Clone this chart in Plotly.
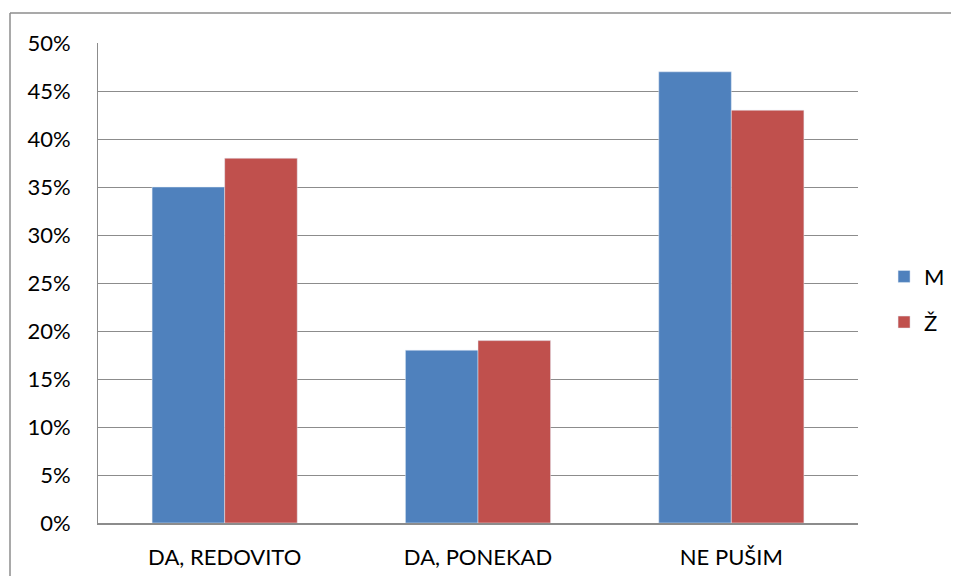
import plotly.graph_objects as go

categories = ["DA, REDOVITO", "DA, PONEKAD", "NE PUŠIM"]
m_values = [0.35, 0.18, 0.47]
z_values = [0.38, 0.19, 0.43]
series_names = ["M", "Ž"]
tick_vals = [i * 0.05 for i in range(11)]
tick_text = [f"{i*5}%" for i in range(11)]

fig = go.Figure()
fig.add_trace(go.Bar(x=categories, y=m_values, name=series_names[0],
                     marker_color="#4F81BD", legendgroup="a"))
fig.add_trace(go.Bar(x=categories, y=z_values, name=series_names[1],
                     marker_color="#C0504D", legendgroup="b"))

fig.update_layout(
    width=943, height=568,
    margin=dict(l=90, r=93, t=35, b=53, autoexpand=False),
    paper_bgcolor="white", plot_bgcolor="white",
    font=dict(family="Lato, Carlito, sans-serif", size=22, color="black"),
    barmode="group", bargap=0.427, bargroupgap=0,
    legend=dict(x=0.929, xanchor="left", y=0.564, yanchor="top",
                xref="container", yref="container", font=dict(size=22),
                tracegroupgap=14, traceorder="grouped", itemwidth=30),
    showlegend=True,
)
fig.update_yaxes(range=[0, 0.5], tickvals=tick_vals, ticktext=tick_text,
                 showgrid=True, gridcolor="#8C8C8C", gridwidth=1,
                 showline=True, linecolor="#8C8C8C", linewidth=1,
                 ticks="", ticklabelstandoff=22, zeroline=False,
                 automargin=False)
fig.update_xaxes(showline=True, linecolor="#8C8C8C", linewidth=1.5,
                 ticks="", ticklabelstandoff=14, automargin=False)
# outer chart border (top and left edges visible)
fig.add_shape(type="line", xref="paper", yref="paper",
              x0=-88/760, x1=1.3, y0=1 + 30/481, y1=1 + 30/481,
              line=dict(color="#8C8C8C", width=1.5), layer="below")
fig.add_shape(type="line", xref="paper", yref="paper",
              x0=-88/760, x1=-88/760, y0=-0.3, y1=1 + 30/481,
              line=dict(color="#8C8C8C", width=1.5), layer="below")

fig.write_html("out.html")
